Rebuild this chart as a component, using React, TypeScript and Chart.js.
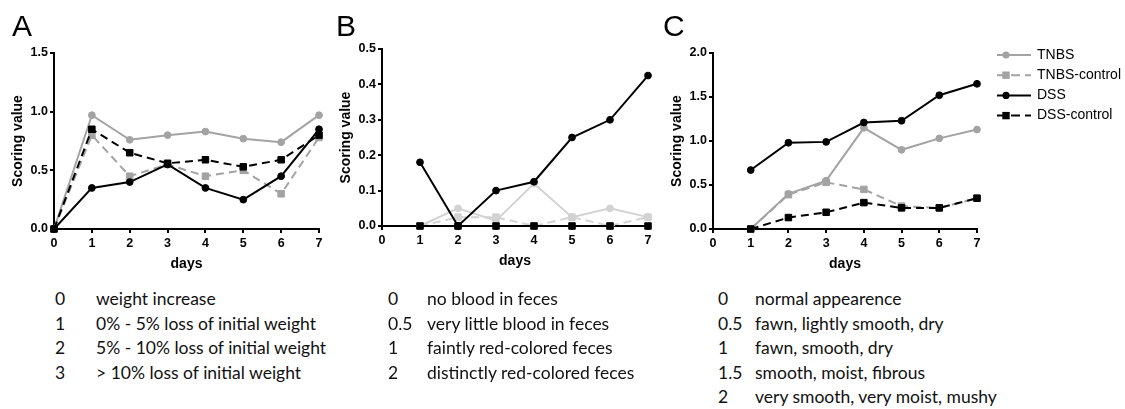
import React, { useEffect, useRef } from 'react';
import { Chart, registerables } from 'chart.js';

Chart.register(...registerables);

// ---------- data ----------
const DAYS_A = [0, 1, 2, 3, 4, 5, 6, 7];
const DAYS_BC = [1, 2, 3, 4, 5, 6, 7];
const X_TICKS = [0, 1, 2, 3, 4, 5, 6, 7];
const SERIES = ['TNBS', 'TNBS-control', 'DSS', 'DSS-control'];

const A_TNBS = [0, 0.97, 0.76, 0.8, 0.83, 0.77, 0.74, 0.97];
const A_TNBS_CTRL = [0, 0.8, 0.45, 0.55, 0.45, 0.5, 0.3, 0.78];
const A_DSS = [0, 0.35, 0.4, 0.55, 0.35, 0.25, 0.45, 0.85];
const A_DSS_CTRL = [0, 0.85, 0.65, 0.56, 0.59, 0.53, 0.59, 0.8];
const A_Y_TICKS = [0, 0.5, 1.0, 1.5];

const B_TNBS = [0, 0.05, 0.015, 0.12, 0.025, 0.05, 0.025];
const B_TNBS_CTRL = [0, 0.025, 0.025, 0, 0.025, 0, 0.025];
const B_DSS = [0.18, 0, 0.1, 0.125, 0.25, 0.3, 0.425];
const B_DSS_CTRL = [0, 0, 0, 0, 0, 0, 0];
const B_Y_TICKS = [0, 0.1, 0.2, 0.3, 0.4, 0.5];

const C_TNBS = [0, 0.4, 0.55, 1.15, 0.9, 1.03, 1.13];
const C_TNBS_CTRL = [0, 0.39, 0.53, 0.45, 0.26, 0.24, 0.35];
const C_DSS = [0.67, 0.98, 0.99, 1.21, 1.23, 1.52, 1.65];
const C_DSS_CTRL = [0, 0.13, 0.19, 0.3, 0.24, 0.24, 0.35];
const C_Y_TICKS = [0, 0.5, 1.0, 1.5, 2.0];

const SCORE_A_VALUES = ['0', '1', '2', '3'];
const SCORE_A_TEXT = [
  'weight increase',
  '0% - 5% loss of initial weight',
  '5% - 10% loss of initial weight',
  '> 10% loss of initial weight',
];
const SCORE_B_VALUES = ['0', '0.5', '1', '2'];
const SCORE_B_TEXT = [
  'no blood in feces',
  'very little blood in feces',
  'faintly red-colored feces',
  'distinctly red-colored feces',
];
const SCORE_C_VALUES = ['0', '0.5', '1', '1.5', '2'];
const SCORE_C_TEXT = [
  'normal appearence',
  'fawn, lightly smooth, dry',
  'fawn, smooth, dry',
  'smooth, moist, fibrous',
  'very smooth, very moist, mushy',
];

// ---------- styles ----------
const GRAY = '#a3a3a3';
const LIGHT_GRAY = '#d2d2d2';
const BLACK = '#000000';
const AX_FONT = "'Liberation Sans', Arial, sans-serif";
const TEXT_FONT = "Lato, 'Open Sans', sans-serif";

function makeSet(label: string, xs: number[], ys: number[], color: string, dashed: boolean, square: boolean, order: number) {
  return {
    label,
    data: xs.map((x, i) => ({ x, y: ys[i] })),
    borderColor: color,
    backgroundColor: color,
    pointBackgroundColor: color,
    pointBorderColor: color,
    borderWidth: 2,
    borderDash: dashed ? [8, 5] : [],
    pointStyle: square ? 'rect' : 'circle',
    pointRadius: square ? 4.6 : 3.4,
    pointBorderWidth: 1,
    order,
    tension: 0,
    fill: false,
    clip: false as any,
    _square: square,
  };
}

const legendPlugin = {
  id: 'gpLegend',
  afterDraw(chart: any, _args: any, opts: any) {
    if (!opts || !opts.show) return;
    const ctx = chart.ctx;
    const { lineX0, lineX1, markerX, textX, y0, dy } = opts;
    ctx.save();
    chart.data.datasets.forEach((ds: any, i: number) => {
      const y = y0 + dy * i;
      ctx.strokeStyle = ds.borderColor;
      ctx.fillStyle = ds.borderColor;
      ctx.lineWidth = 2;
      ctx.setLineDash(ds.borderDash && ds.borderDash.length ? [9, 5] : []);
      ctx.beginPath();
      ctx.moveTo(lineX0, y);
      ctx.lineTo(lineX1, y);
      ctx.stroke();
      ctx.setLineDash([]);
      ctx.beginPath();
      if (ds._square) {
        ctx.rect(markerX - 3.7, y - 3.7, 7.4, 7.4);
      } else {
        ctx.arc(markerX, y, 3.6, 0, Math.PI * 2);
      }
      ctx.fill();
      ctx.fillStyle = '#000';
      ctx.font = `14px ${AX_FONT}`;
      ctx.textBaseline = 'middle';
      ctx.textAlign = 'left';
      ctx.fillText(ds.label, textX, y);
    });
    ctx.restore();
  },
};

type PanelProps = {
  chartLeft: number;
  chartRight: number;
  chartTop: number;
  chartBottom: number;
  canvasRight: number;
  datasets: any[];
  yMax: number;
  yTicks: number[];
  legend?: any;
};

const Y_W = 54;
const X_H = 51;

function Panel(p: PanelProps) {
  const ref = useRef<HTMLCanvasElement | null>(null);
  const left = p.chartLeft - Y_W;
  const width = p.canvasRight - left;
  const height = p.chartBottom + X_H;
  useEffect(() => {
    if (!ref.current) return;
    const tickFont = { family: AX_FONT, size: 12.5, weight: 'bold' as const };
    const titleFont = { family: AX_FONT, size: 14, weight: 'bold' as const, lineHeight: 1 };
    const chart = new Chart(ref.current, {
      type: 'line',
      data: { datasets: p.datasets },
      plugins: [legendPlugin],
      options: {
        responsive: false,
        maintainAspectRatio: false,
        animation: false,
        devicePixelRatio: 1,
        layout: {
          padding: { left: 0, top: p.chartTop, right: p.canvasRight - p.chartRight, bottom: 0 },
        },
        plugins: {
          legend: { display: false },
          tooltip: { enabled: false },
          gpLegend: p.legend ? { show: true, ...p.legend } : { show: false },
        } as any,
        scales: {
          x: {
            type: 'linear',
            min: 0,
            max: 7,
            afterBuildTicks: (s: any) => {
              s.ticks = X_TICKS.map((v) => ({ value: v }));
            },
            afterFit: (s: any) => {
              s.height = X_H;
            },
            grid: { drawOnChartArea: false, drawTicks: true, tickLength: 4, color: BLACK, lineWidth: 2 },
            border: { display: true, color: BLACK, width: 2 },
            ticks: {
              color: BLACK,
              font: tickFont,
              padding: 3,
              maxRotation: 0,
              autoSkip: false,
              callback: (v: any) => String(v),
            },
            title: { display: true, text: 'days', color: BLACK, font: titleFont, padding: { top: 0, bottom: 9 } },
          },
          y: {
            type: 'linear',
            min: 0,
            max: p.yMax,
            afterBuildTicks: (s: any) => {
              s.ticks = p.yTicks.map((v) => ({ value: v }));
            },
            afterFit: (s: any) => {
              s.width = Y_W;
            },
            grid: { drawOnChartArea: false, drawTicks: true, tickLength: 4, color: BLACK, lineWidth: 2 },
            border: { display: true, color: BLACK, width: 2 },
            ticks: {
              color: BLACK,
              font: tickFont,
              padding: 2,
              autoSkip: false,
              callback: (v: any) => Number(v).toFixed(1),
            },
            title: {
              display: true,
              text: 'Scoring value',
              color: BLACK,
              font: titleFont,
              padding: { top: 11, bottom: 0 },
            },
          },
        },
      } as any,
    });
    return () => chart.destroy();
  }, []);
  return (
    <canvas
      ref={ref}
      width={width}
      height={height}
      style={{ position: 'absolute', left, top: 0, width, height }}
    />
  );
}

function ScoreList(props: { values: string[]; texts: string[]; numX: number; textX: number }) {
  return (
    <>
      {props.values.map((v, i) => {
        const cy = 299 + 24.5 * i;
        const style = {
          position: 'absolute' as const,
          top: cy - 12,
          height: 24,
          lineHeight: '24px',
          fontFamily: TEXT_FONT,
          fontSize: 17.5,
          color: '#111',
          whiteSpace: 'nowrap' as const,
        };
        return (
          <React.Fragment key={i}>
            <div style={{ ...style, left: props.numX }}>{v}</div>
            <div style={{ ...style, left: props.textX }}>{props.texts[i]}</div>
          </React.Fragment>
        );
      })}
    </>
  );
}

function Letter(props: { ch: string; left: number }) {
  return (
    <div
      style={{
        position: 'absolute',
        left: props.left,
        top: 11,
        fontFamily: AX_FONT,
        fontSize: 30,
        lineHeight: '30px',
        color: '#000',
      }}
    >
      {props.ch}
    </div>
  );
}

export default function App() {
  const setsA = [
    makeSet(SERIES[0], DAYS_A, A_TNBS, GRAY, false, false, 4),
    makeSet(SERIES[1], DAYS_A, A_TNBS_CTRL, GRAY, true, true, 3),
    makeSet(SERIES[2], DAYS_A, A_DSS, BLACK, false, false, 1),
    makeSet(SERIES[3], DAYS_A, A_DSS_CTRL, BLACK, true, true, 2),
  ];
  const setsB = [
    makeSet(SERIES[0], DAYS_BC, B_TNBS, LIGHT_GRAY, false, false, 4),
    makeSet(SERIES[1], DAYS_BC, B_TNBS_CTRL, LIGHT_GRAY, true, true, 3),
    makeSet(SERIES[2], DAYS_BC, B_DSS, BLACK, false, false, 2),
    makeSet(SERIES[3], DAYS_BC, B_DSS_CTRL, BLACK, true, true, 1),
  ];
  const setsC = [
    makeSet(SERIES[0], DAYS_BC, C_TNBS, GRAY, false, false, 4),
    makeSet(SERIES[1], DAYS_BC, C_TNBS_CTRL, GRAY, true, true, 3),
    makeSet(SERIES[2], DAYS_BC, C_DSS, BLACK, false, false, 1),
    makeSet(SERIES[3], DAYS_BC, C_DSS_CTRL, BLACK, true, true, 2),
  ];
  const cLeft = 713 - Y_W;
  return (
    <div
      style={{
        position: 'fixed',
        left: 0,
        top: 0,
        width: 1125,
        height: 409,
        background: '#fff',
        overflow: 'hidden',
      }}
    >
      <Panel chartLeft={54} chartRight={319} chartTop={53} chartBottom={229} canvasRight={340} datasets={setsA} yMax={1.5} yTicks={A_Y_TICKS} />
      <Panel chartLeft={382} chartRight={648} chartTop={49} chartBottom={226} canvasRight={668} datasets={setsB} yMax={0.5} yTicks={B_Y_TICKS} />
      <Panel
        chartLeft={713}
        chartRight={977}
        chartTop={53}
        chartBottom={229}
        canvasRight={1125}
        datasets={setsC}
        yMax={2.0}
        yTicks={C_Y_TICKS}
        legend={{ lineX0: 997 - cLeft, lineX1: 1031 - cLeft, markerX: 1006 - cLeft, textX: 1037 - cLeft, y0: 55, dy: 20.2 }}
      />
      <Letter ch="A" left={12} />
      <Letter ch="B" left={336} />
      <Letter ch="C" left={663} />
      <ScoreList values={SCORE_A_VALUES} texts={SCORE_A_TEXT} numX={55} textX={96} />
      <ScoreList values={SCORE_B_VALUES} texts={SCORE_B_TEXT} numX={388} textX={427} />
      <ScoreList values={SCORE_C_VALUES} texts={SCORE_C_TEXT} numX={718} textX={755} />
    </div>
  );
}
